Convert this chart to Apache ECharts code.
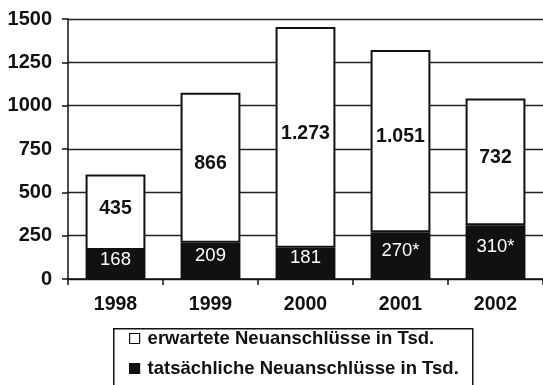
<!DOCTYPE html>
<html>
<head>
<meta charset="utf-8">
<script src="https://cdn.jsdelivr.net/npm/echarts@6/dist/echarts.min.js"></script>
<style>
  html, body { margin: 0; padding: 0; background: #fff; }
  #chart { width: 543px; height: 385px; }
</style>
</head>
<body>
<div id="chart"></div>
<script>
// Neuanschlüsse je Jahr (in Tausend)
const years = ['1998', '1999', '2000', '2001', '2002'];
const expected = [435, 866, 1273, 1051, 732];   // erwartete Neuanschlüsse
const actual = [168, 209, 181, 270, 310];       // tatsächliche Neuanschlüsse
const actualFlagged = [false, false, false, true, true]; // Werte mit Sternchen
const yTicks = [0, 250, 500, 750, 1000, 1250, 1500];

const nameExpected = 'erwartete Neuanschlüsse in Tsd.';
const nameActual = 'tatsächliche Neuanschlüsse in Tsd.';

const FONT = '"Liberation Sans", Arial, sans-serif';

// Tausenderpunkt nach deutscher Schreibweise
function fmtDe(v) {
  return String(v).replace(/\B(?=(\d{3})+(?!\d))/g, '.');
}

const chart = echarts.init(document.getElementById('chart'), null, { renderer: 'canvas' });

chart.setOption({
  animation: false,
  backgroundColor: '#ffffff',
  textStyle: { fontFamily: FONT },
  grid: { left: 68, top: 19, width: 483, height: 260, containLabel: false },
  // Rahmen der Legende, läuft unten über den Rand hinaus
  graphic: [{
    type: 'rect',
    left: 113,
    top: 328,
    shape: { width: 359, height: 80 },
    style: { fill: '#fff', stroke: '#111', lineWidth: 1.5 },
    z: 1
  }],
  legend: {
    data: [nameExpected, nameActual],
    orient: 'vertical',
    left: 129,
    top: 329,
    height: 80,
    itemWidth: 10,
    itemHeight: 10,
    itemGap: 11,
    padding: 0,
    icon: 'rect',
    itemStyle: { borderColor: '#111', borderWidth: 1.2 },
    textStyle: { fontFamily: FONT, fontSize: 18.5, fontWeight: 'bold', color: '#111', padding: [0, 0, 0, 3] },
    selectedMode: false,
    z: 5
  },
  xAxis: {
    type: 'category',
    data: years,
    boundaryGap: true,
    axisLine: { lineStyle: { color: '#111', width: 1.5 } },
    axisTick: { show: true, length: 6, inside: false, lineStyle: { color: '#111', width: 1.5 } },
    axisLabel: { margin: 16, fontFamily: FONT, fontSize: 19.5, fontWeight: 'bold', color: '#111' }
  },
  yAxis: {
    type: 'value',
    min: yTicks[0],
    max: yTicks[yTicks.length - 1],
    interval: 250,
    axisLine: { show: true, lineStyle: { color: '#111', width: 1.5 } },
    axisTick: { show: true, length: 6, lineStyle: { color: '#111', width: 1.5 } },
    splitLine: { show: true, lineStyle: { color: '#222', width: 1.3 } },
    axisLabel: {
      margin: 16, fontFamily: FONT, fontSize: 20, fontWeight: 'bold', color: '#111',
      formatter: v => String(v)
    }
  },
  series: [
    {
      name: nameActual,
      type: 'bar',
      stack: 'total',
      data: actual,
      barCategoryGap: '37%',
      itemStyle: { color: '#111', borderColor: '#111', borderWidth: 2 },
      label: {
        show: true,
        position: 'inside',
        offset: [0, -5],
        fontFamily: FONT,
        fontSize: 18.5,
        color: '#fff',
        formatter: p => fmtDe(p.value) + (actualFlagged[p.dataIndex] ? '*' : '')
      },
      z: 3
    },
    {
      name: nameExpected,
      type: 'bar',
      stack: 'total',
      data: expected,
      barCategoryGap: '37%',
      itemStyle: { color: '#fff', borderColor: '#111', borderWidth: 2 },
      label: {
        show: true,
        position: 'inside',
        offset: [0, -4],
        fontFamily: FONT,
        fontSize: 19.5,
        fontWeight: 'bold',
        color: '#111',
        formatter: p => fmtDe(p.value)
      },
      z: 2
    }
  ]
});
</script>
</body>
</html>
